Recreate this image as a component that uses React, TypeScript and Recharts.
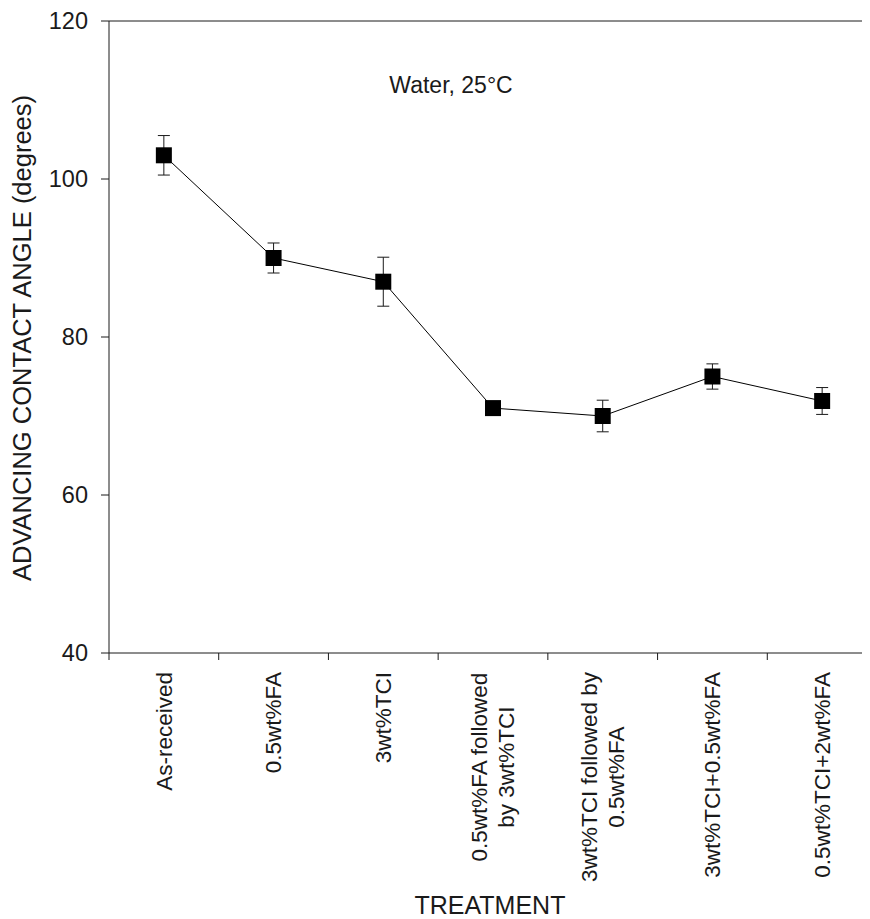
import React from 'react';
import { LineChart, Line, XAxis, YAxis, ErrorBar, ReferenceLine, Customized } from 'recharts';

// treatments, one entry per category; inner arrays are the label lines
const treatments = [
  ['As-received'],
  ['0.5wt%FA'],
  ['3wt%TCI'],
  ['0.5wt%FA followed', 'by 3wt%TCI'],
  ['3wt%TCI followed by', '0.5wt%FA'],
  ['3wt%TCI+0.5wt%FA'],
  ['0.5wt%TCI+2wt%FA'],
];
const contactAngle = [103, 90, 87, 71, 70, 75, 71.9];
const angleError = [2.5, 1.9, 3.1, 0.6, 2.0, 1.6, 1.7];
const yTicks = [40, 60, 80, 100, 120];

const FONT = '"Liberation Sans", Arial, Helvetica, sans-serif';
const INK = '#1a1a1a';
const LABEL_SIZE = 22.5;

const data = treatments.map((t, i) => ({
  pos: i + 0.5,
  angle: contactAngle[i],
  err: angleError[i],
}));

// boundaries get tick marks, half positions get the labels
const xTicks: number[] = [];
for (let i = 0; i <= treatments.length; i++) {
  xTicks.push(i);
  if (i < treatments.length) xTicks.push(i + 0.5);
}

let ctx: CanvasRenderingContext2D | null = null;
const measure = (s: string, size: number) => {
  if (!ctx) ctx = document.createElement('canvas').getContext('2d');
  if (!ctx) return s.length * size * 0.5;
  ctx.font = `${size}px ${FONT}`;
  return ctx.measureText(s).width;
};

const TreatmentTick = (props: any) => {
  const { x, y, payload } = props;
  const v = payload.value;
  if (Number.isInteger(v)) {
    return <line x1={x} y1={y} x2={x} y2={y + 7} stroke={INK} strokeWidth={1} />;
  }
  const lines = treatments[Math.floor(v)];
  const w = Math.max(...lines.map((l) => measure(l, LABEL_SIZE)));
  const cy = y + 19 + w / 2;
  return (
    <g transform={`translate(${x},${cy}) rotate(-90)`}>
      {lines.map((l, j) => (
        <text
          key={j}
          x={0}
          y={(j - (lines.length - 1) / 2) * 27}
          dy="0.35em"
          textAnchor="middle"
          fontSize={LABEL_SIZE}
          fontFamily={FONT}
          fill={INK}
        >
          {l}
        </text>
      ))}
    </g>
  );
};

const SquareDot = (p: any) => {
  if (p.cx == null || p.cy == null) return <g key={p.index} />;
  return <rect key={p.index} x={p.cx - 8} y={p.cy - 8} width={16} height={16} fill="#000" />;
};

const Titles = () => (
  <g fontFamily={FONT} fill={INK}>
    <text x={443} y={85} textAnchor="middle" fontSize={23}>
      Water, 25°C
    </text>
    <text x={482} y={906} textAnchor="middle" fontSize={25}>
      TREATMENT
    </text>
    <text
      transform="translate(14,330) rotate(-90)"
      x={0}
      y={0}
      dy="0.35em"
      textAnchor="middle"
      fontSize={25.5}
    >
      ADVANCING CONTACT ANGLE (degrees)
    </text>
  </g>
);

export default function App() {
  return (
    <div style={{ width: 862, height: 911, overflow: 'hidden' }}>
      <LineChart
        width={880}
        height={911}
        data={data}
        margin={{ top: 13, right: 11, bottom: 0, left: 0 }}
      >
        <XAxis
          dataKey="pos"
          type="number"
          domain={[0, treatments.length]}
          allowDataOverflow
          ticks={xTicks}
          interval={0}
          tick={<TreatmentTick />}
          tickLine={false}
          tickSize={0}
          tickMargin={0}
          height={266}
          axisLine={{ stroke: INK, strokeWidth: 1 }}
        />
        <YAxis
          type="number"
          domain={[40, 120]}
          ticks={yTicks}
          interval={0}
          width={101}
          tickSize={8}
          tickMargin={13}
          tick={{ fontSize: 23.5, fill: INK, fontFamily: FONT }}
          tickLine={{ stroke: INK }}
          axisLine={{ stroke: INK, strokeWidth: 1 }}
        />
        <ReferenceLine y={120} stroke={INK} strokeWidth={1} />
        <Line
          type="linear"
          dataKey="angle"
          stroke="#000"
          strokeWidth={1}
          dot={SquareDot}
          activeDot={false}
          isAnimationActive={false}
        >
          <ErrorBar dataKey="err" direction="y" width={6} stroke={INK} strokeWidth={1} />
        </Line>
        <Customized component={Titles} />
      </LineChart>
    </div>
  );
}
